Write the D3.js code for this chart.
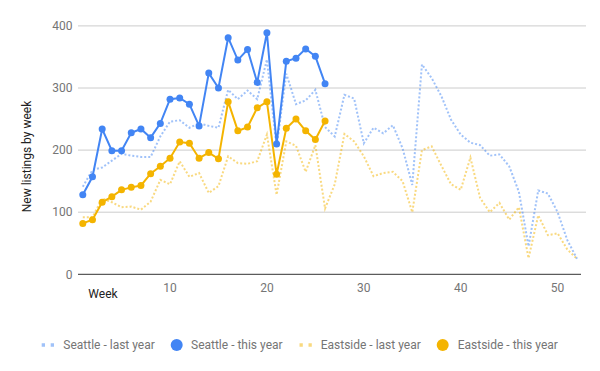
<!DOCTYPE html>
<html>
<head>
<meta charset="utf-8">
<script src="https://cdn.jsdelivr.net/npm/d3@7"></script>
<style>
  html, body { margin: 0; padding: 0; background: #fff; }
  svg { display: block; font-family: Roboto, "Noto Sans", sans-serif; }
</style>
</head>
<body>
<svg id="chart" width="600" height="371"></svg>
<script>
// ---- data ----
const seattleLastYear = [141,168,172,183,194,191,189,189,222,246,248,236,243,239,236,297,282,296,282,346,205,323,274,280,297,237,222,289,283,211,236,227,240,203,144,338,316,287,249,225,212,208,191,193,174,133,45,135,130,100,55,25];
const seattleThisYear = [128,157,234,199,199,228,234,220,243,282,284,274,239,324,300,381,345,362,309,389,210,343,348,363,351,307];
const eastsideLastYear = [92,92,122,116,108,109,104,117,152,145,182,157,163,131,142,190,179,178,182,225,128,214,207,165,208,106,145,226,214,190,158,163,165,150,100,200,206,175,145,136,188,123,100,115,88,108,26,95,63,66,40,25];
const eastsideThisYear = [82,88,116,125,136,140,143,162,174,187,213,211,187,196,186,278,231,237,268,278,161,235,250,231,217,247];
const yTicks = [0,100,200,300,400];
const xTicks = [10,20,30,40,50];
const seriesNames = ["Seattle - last year","Seattle - this year","Eastside - last year","Eastside - this year"];

const BLUE = "#4285F4", ORANGE = "#F4B400";

const svg = d3.select("#chart");
const x = d3.scaleLinear().domain([1,52]).range([82.8,577]);
const y = d3.scaleLinear().domain([0,400]).range([274.3,25.9]);
const plotLeft = 78, plotRight = 586;

// gridlines
svg.append("g").selectAll("line").data(yTicks.filter(d=>d>0)).join("line")
  .attr("x1", plotLeft).attr("x2", plotRight)
  .attr("y1", d=>y(d)).attr("y2", d=>y(d))
  .attr("stroke", "#cccccc").attr("stroke-width", 1);

// y tick labels
svg.append("g").selectAll("text").data(yTicks).join("text")
  .attr("x", 72.5).attr("y", d=>y(d)).attr("dy","0.35em")
  .attr("text-anchor","end").attr("font-size",12).attr("fill","#757575")
  .text(d=>d);

// x tick labels
svg.append("g").selectAll("text").data(xTicks).join("text")
  .attr("x", d=>x(d)).attr("y", 291.7)
  .attr("text-anchor","middle").attr("font-size",12).attr("fill","#757575")
  .text(d=>d);

// axis titles
svg.append("text").attr("x",88.3).attr("y",298).attr("font-size",12).attr("fill","#222")
  .text("Week");
svg.append("text").attr("transform","translate(31,156.5) rotate(-90)")
  .attr("text-anchor","middle").attr("font-size",12).attr("fill","#222")
  .text("New listings by week");

const line = d3.line().x((d,i)=>x(i+1)).y(d=>y(d));

// last year dotted
function dotted(data, color){
  svg.append("path").datum(data).attr("d", line)
    .attr("fill","none").attr("stroke",color).attr("stroke-opacity",0.5)
    .attr("stroke-width",2).attr("stroke-dasharray","2,2");
}
dotted(eastsideLastYear, ORANGE);
dotted(seattleLastYear, BLUE);

function solid(data, color){
  svg.append("path").datum(data).attr("d", line)
    .attr("fill","none").attr("stroke",color).attr("stroke-width",2);
  svg.append("g").selectAll("circle").data(data).join("circle")
    .attr("cx",(d,i)=>x(i+1)).attr("cy",d=>y(d)).attr("r",3.5).attr("fill",color);
}
solid(eastsideThisYear, ORANGE);
solid(seattleThisYear, BLUE);

// baseline
svg.append("line").attr("x1",plotLeft).attr("x2",581).attr("y1",y(0)).attr("y2",y(0))
  .attr("stroke","#333").attr("stroke-width",1);

// legend
const legY = 345;
const legend = [
  {name: seriesNames[0], color: BLUE, type:"dot", sx: 41.7, tx: 63.3},
  {name: seriesNames[1], color: BLUE, type:"circle", sx: 176.7, tx: 191},
  {name: seriesNames[2], color: ORANGE, type:"dot", sx: 299.5, tx: 320.7},
  {name: seriesNames[3], color: ORANGE, type:"circle", sx: 442.7, tx: 457.7}
];
const lg = svg.append("g").selectAll("g").data(legend).join("g");
lg.filter(d=>d.type==="dot").append("line")
  .attr("x1",d=>d.sx).attr("x2",d=>d.sx+12.6).attr("y1",legY).attr("y2",legY)
  .attr("stroke",d=>d.color).attr("stroke-opacity",0.5).attr("stroke-width",3.3)
  .attr("stroke-dasharray","3.3,5.7");
lg.filter(d=>d.type==="circle").append("circle")
  .attr("cx",d=>d.sx).attr("cy",legY).attr("r",6).attr("fill",d=>d.color);
lg.append("text").attr("x",d=>d.tx).attr("y",legY).attr("dy","0.35em")
  .attr("font-size",12).attr("fill","#757575").text(d=>d.name);
</script>
</body>
</html>
